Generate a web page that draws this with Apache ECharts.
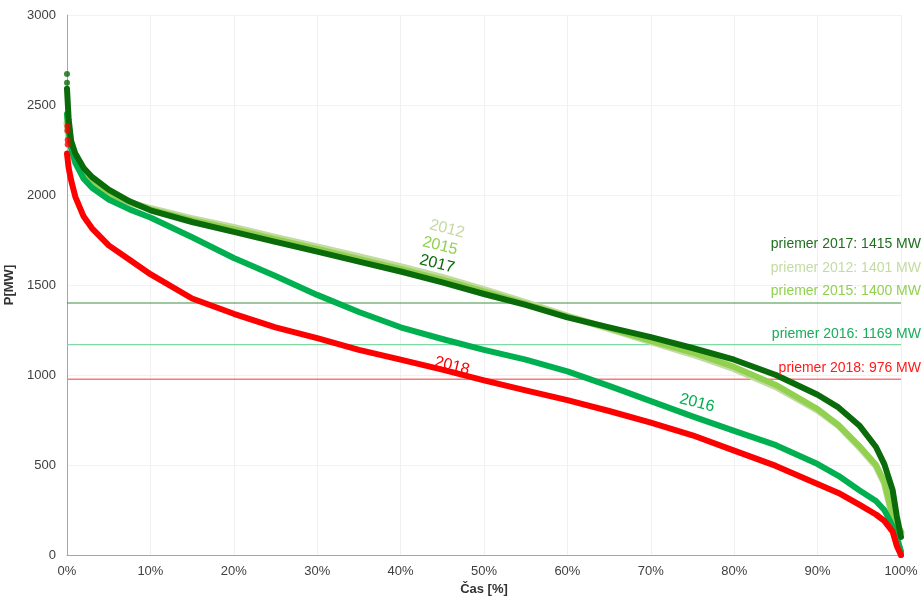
<!DOCTYPE html>
<html>
<head>
<meta charset="utf-8">
<script src="https://cdn.jsdelivr.net/npm/echarts@6/dist/echarts.min.js"></script>
<style>
  html, body { margin: 0; padding: 0; background: #fff; }
  #chart { width: 923px; height: 599px; }
</style>
</head>
<body>
<div id="chart"></div>
<script>
// Time share (% of hours, sorted by load) shared by every duration curve
const timePct = [0, 0.2, 0.5, 1, 2, 3, 5, 7.5, 10, 15, 20, 25, 30, 35, 40, 45, 50, 55, 60, 65, 70, 75, 80, 85, 90, 92.5, 95, 97, 98, 99, 99.5, 100];

// Load duration curves, P [MW]
const load2012 = [2400, 2320, 2250, 2180, 2100, 2060, 2000, 1958, 1925, 1868, 1820, 1765, 1712, 1657, 1602, 1542, 1475, 1402, 1328, 1258, 1185, 1115, 1035, 935, 805, 720, 600, 495, 400, 210, 165, 125];
const load2015 = [2450, 2350, 2270, 2200, 2120, 2075, 2010, 1960, 1920, 1860, 1810, 1755, 1700, 1645, 1590, 1530, 1465, 1395, 1325, 1260, 1190, 1125, 1045, 945, 810, 720, 605, 500, 405, 215, 170, 130];
const load2016 = [2450, 2360, 2260, 2180, 2090, 2040, 1975, 1920, 1875, 1765, 1650, 1550, 1445, 1350, 1265, 1200, 1140, 1085, 1020, 940, 855, 770, 690, 610, 505, 440, 360, 300, 250, 160, 100, 20];
const load2017 = [2590, 2420, 2300, 2230, 2150, 2100, 2030, 1965, 1915, 1850, 1795, 1740, 1685, 1630, 1575, 1515, 1450, 1390, 1320, 1265, 1210, 1150, 1085, 1000, 890, 820, 720, 600, 505, 360, 215, 100];
const load2018 = [2230, 2150, 2080, 1990, 1880, 1815, 1720, 1640, 1560, 1425, 1340, 1265, 1205, 1140, 1085, 1030, 970, 915, 860, 800, 735, 665, 580, 495, 395, 345, 280, 225, 190, 130, 50, 0];

// Isolated peak hours at the very start of the curves
const peaks2017 = [[0, 2672], [0, 2624]];
const peaks2018 = [[0.05, 2383], [0.05, 2357], [0.08, 2305], [0.08, 2280]];

// Yearly averages [MW]
const avgYears = ['2017', '2012', '2015', '2016', '2018'];
const avgValues = [1415, 1401, 1400, 1169, 976];

const xTicks = [0, 10, 20, 30, 40, 50, 60, 70, 80, 90, 100];
const yTicks = [0, 500, 1000, 1500, 2000, 2500, 3000];

const FONT = '"Liberation Sans", Arial, sans-serif';
const colors = {
  '2012': '#c3dba3',
  '2015': '#92d050',
  '2016': '#00b050',
  '2017': '#0a6b0a',
  '2018': '#ff0000'
};
const textColors = {
  '2012': '#c3dba3',
  '2015': '#92d050',
  '2016': '#18ad5a',
  '2017': '#1f6f1f',
  '2018': '#ff1a1a'
};

function pairs(values) {
  return timePct.map((t, i) => [t, values[i]]);
}

function curve(name, values, width, z) {
  return {
    name: name,
    type: 'line',
    data: pairs(values),
    showSymbol: false,
    smooth: false,
    lineStyle: { color: colors[name], width: width, cap: 'round', join: 'round' },
    itemStyle: { color: colors[name] },
    z: z,
    silent: true
  };
}

function avgLine(value, color, width) {
  return {
    type: 'line',
    data: [[0, value], [100, value]],
    showSymbol: false,
    lineStyle: { color: color, width: width },
    z: 1,
    silent: true
  };
}

const chart = echarts.init(document.getElementById('chart'), null, { renderer: 'canvas' });

// Text placed by the curves and stacked on the right
const curveLabels = [
  { text: '2012', x: 447, y: 229 },
  { text: '2015', x: 440, y: 246 },
  { text: '2017', x: 437, y: 264 },
  { text: '2018', x: 452, y: 366 },
  { text: '2016', x: 697, y: 403 }
];
const avgLabelY = [244, 268, 291, 334, 368];

const graphics = [];
curveLabels.forEach(l => {
  graphics.push({
    type: 'text',
    x: l.x, y: l.y,
    rotation: -14 * Math.PI / 180,
    style: {
      text: l.text,
      fill: colors[l.text],
      font: '16px ' + FONT,
      align: 'center',
      verticalAlign: 'middle'
    },
    z: 20
  });
});
avgYears.forEach((yr, i) => {
  graphics.push({
    type: 'text',
    x: 921, y: avgLabelY[i],
    style: {
      text: 'priemer ' + yr + ': ' + avgValues[i] + ' MW',
      fill: textColors[yr],
      font: '14px ' + FONT,
      align: 'right',
      verticalAlign: 'middle'
    },
    z: 20
  });
});

chart.setOption({
  animation: false,
  backgroundColor: '#ffffff',
  grid: { left: 67, right: 22, top: 15, bottom: 44, containLabel: false, outerBoundsMode: 'none' },
  xAxis: {
    type: 'value',
    min: 0, max: 100, interval: 10,
    name: 'Čas [%]',
    nameLocation: 'middle',
    nameGap: 28,
    nameTextStyle: { fontFamily: FONT, fontSize: 13, fontWeight: 'bold', color: '#333' },
    axisLine: { show: true, lineStyle: { color: '#a6a6a6', width: 1 } },
    axisTick: { show: false },
    axisLabel: {
      fontFamily: FONT, fontSize: 13, color: '#404040', margin: 10,
      formatter: v => xTicks.indexOf(v) >= 0 ? v + '%' : ''
    },
    splitLine: { show: true, lineStyle: { color: '#f0f0f0', width: 1 } }
  },
  yAxis: {
    type: 'value',
    min: 0, max: 3000, interval: 500,
    name: 'P[MW]',
    nameLocation: 'middle',
    nameGap: 46,
    nameRotate: 90,
    nameTextStyle: { fontFamily: FONT, fontSize: 13, fontWeight: 'bold', color: '#333' },
    axisLine: { show: true, lineStyle: { color: '#a6a6a6', width: 1 } },
    axisTick: { show: false },
    axisLabel: {
      fontFamily: FONT, fontSize: 13, color: '#404040', margin: 11,
      formatter: v => yTicks.indexOf(v) >= 0 ? String(v) : ''
    },
    splitLine: { show: true, lineStyle: { color: '#f2f2f2', width: 1 } }
  },
  series: [
    avgLine(avgValues[2], '#3f8f3f', 1),
    avgLine(avgValues[3], '#80d8a4', 1.2),
    avgLine(avgValues[4], '#ff7878', 1.6),
    curve('2012', load2012, 7, 3),
    curve('2015', load2015, 6, 4),
    curve('2016', load2016, 6, 5),
    curve('2018', load2018, 6, 6),
    curve('2017', load2017, 6, 7),
    {
      type: 'scatter', data: peaks2017, symbolSize: 6,
      itemStyle: { color: colors['2017'] }, z: 8, silent: true
    },
    {
      type: 'scatter', data: peaks2018, symbolSize: 6,
      itemStyle: { color: colors['2018'] }, z: 8, silent: true
    },
    {
      type: 'scatter', data: [[100, 0]], symbolSize: 6,
      itemStyle: { color: colors['2018'] }, z: 8, silent: true
    }
  ],
  graphic: graphics
});
</script>
</body>
</html>
